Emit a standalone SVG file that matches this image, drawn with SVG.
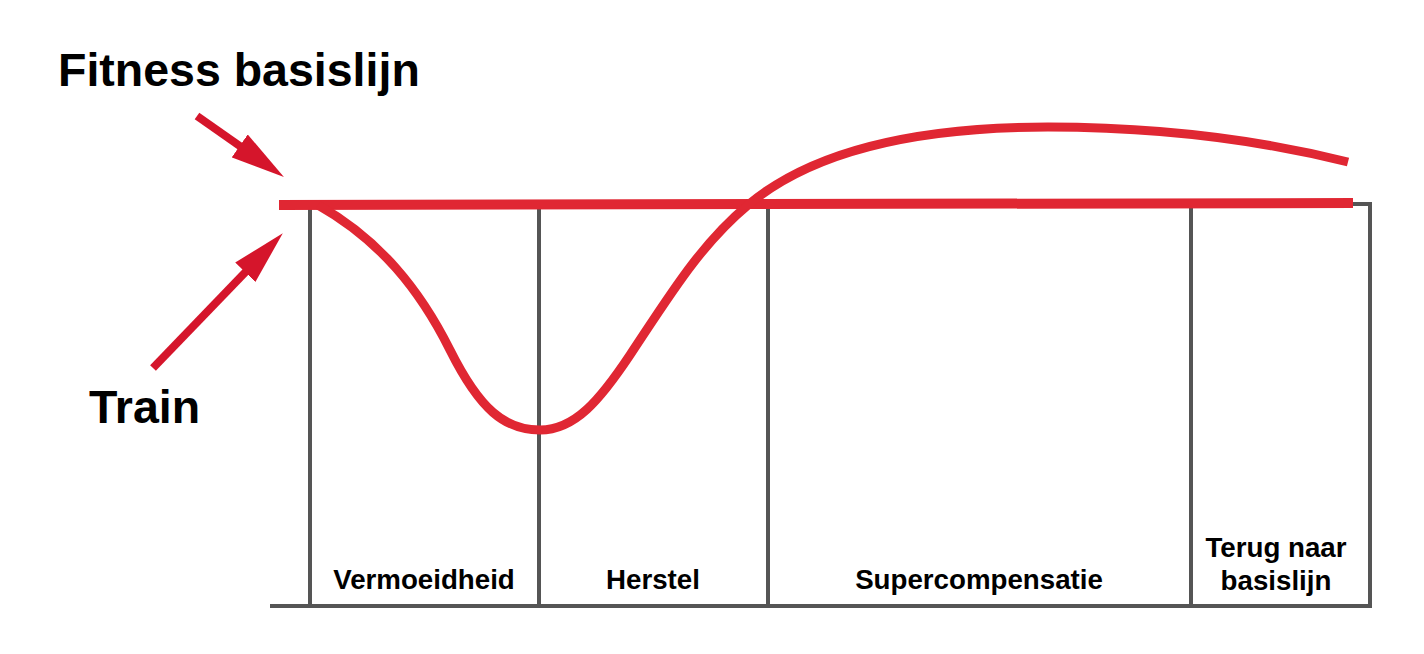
<svg xmlns="http://www.w3.org/2000/svg" width="1424" height="654" viewBox="0 0 1424 654">
<style>
.frame{stroke:#555555;stroke-width:4;fill:none}
.red{stroke:#E02733;fill:none}
.arrow{stroke:#D5152B;stroke-width:8;fill:none}
.big{font-family:"Liberation Sans",Arial,Helvetica,sans-serif;font-weight:bold;font-size:46.5px;fill:#000}
.lbl{font-family:"Liberation Sans",Arial,Helvetica,sans-serif;font-weight:bold;font-size:27.7px;fill:#000;text-anchor:middle}
</style>
<defs>
<marker id="head" viewBox="0 0 54 28" refX="1" refY="14" markerWidth="54" markerHeight="28" markerUnits="userSpaceOnUse" orient="auto">
<path d="M0,0 L54,14 L0,28 z" fill="#D5152B"/>
</marker>
</defs>
<rect width="1424" height="654" fill="#ffffff"/>
<g id="frame">
<line class="frame" x1="310" y1="207" x2="310" y2="607"/>
<line class="frame" x1="539" y1="207" x2="539" y2="607"/>
<line class="frame" x1="768" y1="207" x2="768" y2="607"/>
<line class="frame" x1="1191" y1="205" x2="1191" y2="607"/>
<polyline class="frame" points="1350,204 1370,204 1370,607"/>
<line class="frame" x1="270" y1="606" x2="1372" y2="606"/>
</g>
<g id="baseline">
<line class="red" stroke-width="10" x1="279" y1="205" x2="1353" y2="203"/>
</g>
<g id="curve">
<path class="red" stroke-width="9" d="M318,205 C380,240 420,290 450,350 C480,410 505,430 540,430 C575,430 600,400 630,355 C670,295 700,245 748,205 C805,157 900,127 1048,127 C1180,127 1280,145 1348,162"/>
</g>
<g id="connectors">
<line class="arrow" x1="197" y1="116" x2="240.5" y2="146.5" marker-end="url(#head)"/>
<line class="arrow" x1="153" y1="368" x2="246" y2="271.5" marker-end="url(#head)"/>
</g>
<g id="label-fitness"><text class="big" x="58" y="86">Fitness basislijn</text></g>
<g id="label-train"><text class="big" x="89" y="423" font-size="45.5">Train</text></g>
<g id="label-vermoeidheid"><text class="lbl" x="424" y="589">Vermoeidheid</text></g>
<g id="label-herstel"><text class="lbl" x="653" y="589">Herstel</text></g>
<g id="label-supercompensatie"><text class="lbl" x="979" y="589">Supercompensatie</text></g>
<g id="label-terug"><text class="lbl" x="1276" y="557">Terug naar</text><text class="lbl" x="1276" y="590">basislijn</text></g>
</svg>
